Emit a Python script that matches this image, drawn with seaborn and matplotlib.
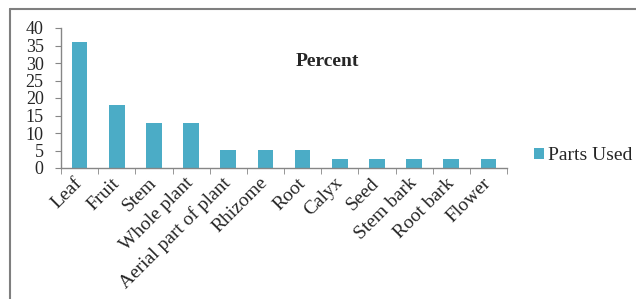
import numpy as np
import pandas as pd
import matplotlib.pyplot as plt
import seaborn as sns
from matplotlib.lines import Line2D
from matplotlib.ticker import FixedLocator

# Data
parts = ['Leaf', 'Fruit', 'Stem', 'Whole plant', 'Aerial part of plant', 'Rhizome',
         'Root', 'Calyx', 'Seed', 'Stem bark', 'Root bark', 'Flower']
percent = [35.9, 17.9, 12.8, 12.8, 5.1, 5.1, 5.1, 2.6, 2.6, 2.6, 2.6, 2.6]

df = pd.DataFrame({'part': parts, 'percent': percent})

sns.set_style('white')
plt.rcParams['font.family'] = ['Liberation Serif', 'DejaVu Serif']

fig = plt.figure(figsize=(6.36, 2.99), dpi=100)
ax = fig.add_axes([61 / 636, 1 - 168 / 299, (507 - 61) / 636, (168 - 28) / 299])

sns.barplot(data=df, x='part', y='percent', color='#4BACC6', saturation=1,
            width=0.42, linewidth=0, label='Parts Used', ax=ax)

ax.set_ylim(0, 40)
ax.set_xlim(-0.5, len(parts) - 0.5)
ax.set_yticks(range(0, 41, 5))
ax.set_xlabel('')
ax.set_ylabel('')
ax.tick_params(axis='y', labelsize=13, length=4.5, color='#868686', left=True, pad=8)
ax.tick_params(axis='x', which='major', length=0, labelsize=14, pad=9)
ax.xaxis.set_minor_locator(FixedLocator(np.arange(-0.5, len(parts), 1)))
ax.tick_params(axis='x', which='minor', length=4.5, color='#868686', bottom=True)
plt.setp(ax.get_xticklabels(), rotation=45, ha='right', va='center', rotation_mode='anchor')

for side in ['top', 'right']:
    ax.spines[side].set_visible(False)
for side in ['left', 'bottom']:
    ax.spines[side].set_color('#868686')
    ax.spines[side].set_linewidth(1)

fig.text(327 / 636, 1 - 62 / 299, 'Percent', ha='center', va='center',
         fontsize=14, fontweight='bold')

handles, labels = ax.get_legend_handles_labels()
ax.legend(handles, labels, loc='center left', bbox_to_anchor=(520 / 636, 1 - 156 / 299),
          bbox_transform=fig.transFigure, frameon=False, fontsize=14,
          handlelength=0.55, handleheight=0.55, handletextpad=0.2, borderpad=0.2)

# outer chart border (gray frame, partly cut off like in the original)
fig.add_artist(Line2D([10 / 636, 1.0], [1 - 9 / 299, 1 - 9 / 299], color='#7f7f7f', lw=1.5,
                      transform=fig.transFigure))
fig.add_artist(Line2D([10 / 636, 10 / 636], [0, 1 - 9 / 299], color='#7f7f7f', lw=1.5,
                      transform=fig.transFigure))

fig.savefig('out.png', dpi=100)
